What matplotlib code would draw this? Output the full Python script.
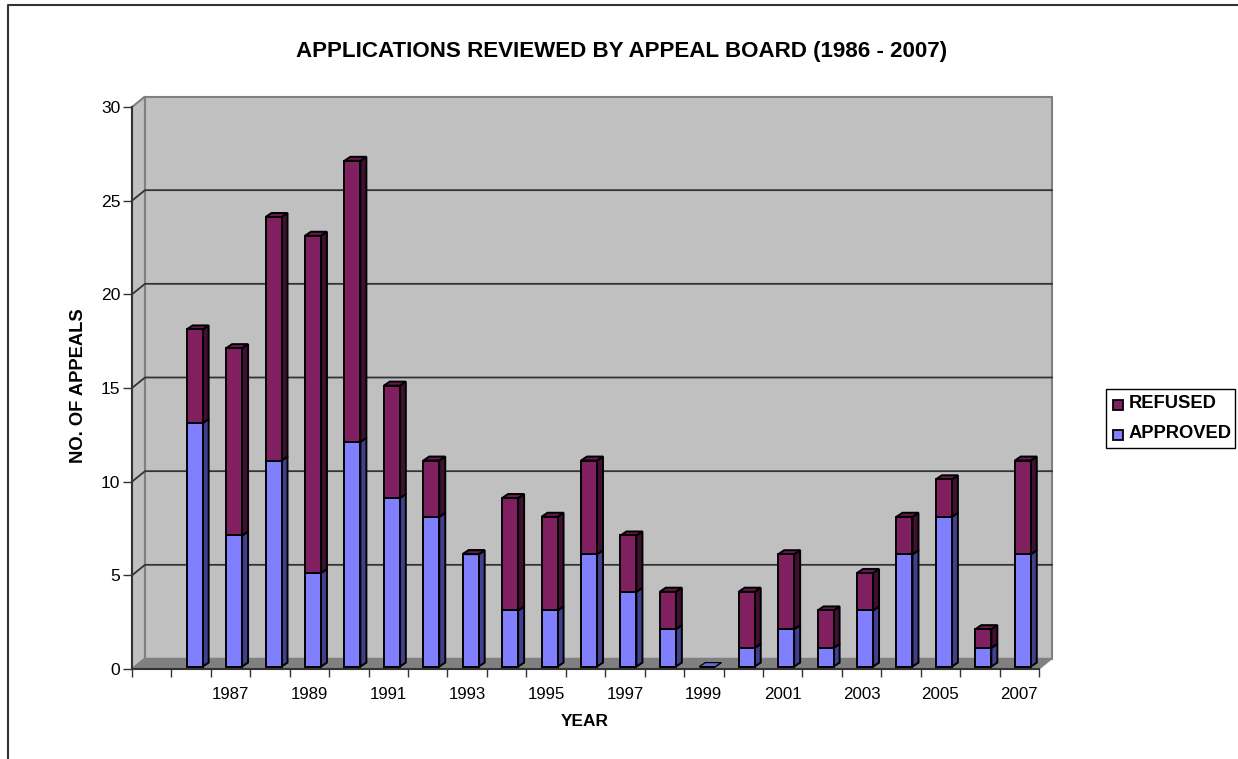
import numpy as np
import matplotlib
matplotlib.use("Agg")
import matplotlib.pyplot as plt
from matplotlib.patches import Polygon, Rectangle

plt.rcParams['font.family'] = ['Liberation Sans', 'DejaVu Sans']

anos = list(range(1986, 2008))
aprovados = [13, 7, 11, 5, 12, 9, 8, 6, 3, 3, 6, 4, 2, 0, 1, 2, 1, 3, 6, 8, 1, 6]
recusados = [5, 10, 13, 18, 15, 6, 3, 0, 6, 5, 5, 3, 2, 0, 3, 4, 2, 2, 2, 2, 1, 5]
rotulos_y = [0, 5, 10, 15, 20, 25, 30]

W, H = 1238, 759
fig = plt.figure(figsize=(W / 100, H / 100), dpi=100, facecolor='white')
ax = fig.add_axes([132 / W, 1 - 669 / H, (1039 - 132) / W, (669 - 107) / H])
ax.set_xlim(0, 23)
ax.set_ylim(0, 30)
ax.patch.set_visible(False)
for s in ax.spines.values():
    s.set_visible(False)

# pixels por unidade nos eixos
px = (1039 - 132) / 23
py = (669 - 107) / 30
fundo_x, fundo_y = 13 / px, 10.5 / py   # profundidade da parede
barra_dx, barra_dy = 6 / px, 4 / py     # profundidade da barra
ini_x, ini_y = 3.5 / px, 2.4 / py       # recuo da barra
larg = 16 / px

# paredes e chao
ax.add_patch(Polygon([(0, 0), (fundo_x, fundo_y), (fundo_x, 30 + fundo_y), (0, 30)],
                     fc='#c0c0c0', ec='#808080', lw=1.5, clip_on=False, zorder=1))
ax.add_patch(Rectangle((fundo_x, fundo_y), 23, 30, fc='#c0c0c0', ec='#808080',
                       lw=1.5, clip_on=False, zorder=1))
ax.add_patch(Polygon([(0, 0), (fundo_x, fundo_y), (23 + fundo_x, fundo_y), (23, 0)],
                     fc='#808080', ec='#808080', lw=1, clip_on=False, zorder=2))

# grade
for v in rotulos_y[1:-1]:
    ax.plot([0, fundo_x, 23 + fundo_x], [v, v + fundo_y, v + fundo_y], color='#333333',
            lw=1.3, clip_on=False, zorder=2)


def barra(x, base, alt, cor, lado, topo, lw=1.4):
    esq = x - larg / 2
    dir = x + larg / 2
    y0 = base + ini_y
    y1 = base + alt + ini_y
    ax.add_patch(Polygon([(dir, y0), (dir + barra_dx, y0 + barra_dy),
                          (dir + barra_dx, y1 + barra_dy), (dir, y1)],
                         fc=lado, ec='black', lw=lw, clip_on=False, zorder=3))
    ax.add_patch(Polygon([(esq, y1), (esq + barra_dx, y1 + barra_dy),
                          (dir + barra_dx, y1 + barra_dy), (dir, y1)],
                         fc=topo, ec='black', lw=lw, clip_on=False, zorder=3))
    ax.bar(x, alt, larg, bottom=y0, color=cor, edgecolor='black', lw=lw, clip_on=False, zorder=3)


for i, ano in enumerate(anos):
    x = i + 1.5 + ini_x
    a, r = aprovados[i], recusados[i]
    if a == 0 and r == 0:
        # ano sem recursos: so o topo achatado
        barra(x, 0, a, '#8080ff', '#40408f', '#6a6ad8', lw=0.9)
        continue
    barra(x, 0, a, '#8080ff', '#40408f', '#40408f')
    barra(x, a, r, '#802060', '#401030', '#661a4d')

# eixos
ax.plot([0, 0], [0, 30], color='#333333', lw=1.5, clip_on=False, zorder=4)
ax.plot([0, 23], [0, 0], color='#333333', lw=1.5, clip_on=False, zorder=4)
ax.set_xticks(np.arange(24))
ax.set_xticklabels([])
ax.tick_params(axis='x', which='major', length=6, width=1, color='#333333')
ax.set_xticks([i + 1.5 for i, a in enumerate(anos) if a % 2 == 1], minor=True)
ax.set_xticklabels([str(a) for a in anos if a % 2 == 1], minor=True, fontsize=12.2)
ax.tick_params(axis='x', which='minor', length=0, pad=13)
ax.set_yticks(rotulos_y)
ax.set_yticklabels([str(v) for v in rotulos_y], fontsize=12.6)
ax.tick_params(axis='y', length=6.5, width=1, color='#333333', pad=2)

# textos
fig.text(622 / W, 1 - 51 / H, 'APPLICATIONS REVIEWED BY APPEAL BOARD (1986 - 2007)',
         ha='center', va='center', fontsize=16.1, fontweight='bold')
fig.text(585 / W, 1 - 721 / H, 'YEAR', ha='center', va='center', fontsize=12.4, fontweight='bold')
fig.text(78 / W, 1 - 386 / H, 'NO. OF APPEALS', ha='center', va='center', rotation=90,
         fontsize=13.2, fontweight='bold')

# moldura do grafico, cortada na borda da imagem
fig.add_artist(plt.Line2D([8 / W, 8 / W, 1], [0, 1 - 5 / H, 1 - 5 / H], color='#333333', lw=1.5))

# legenda
fig.add_artist(Rectangle((1106 / W, 1 - 448 / H), 129 / W, 59 / H, transform=fig.transFigure,
                         fc='white', ec='black', lw=1))
for nome, cor, yp, yt in [('REFUSED', '#802060', 405.5, 404), ('APPROVED', '#8080ff', 434.5, 433)]:
    fig.add_artist(Rectangle((1113 / W, 1 - (yp + 5) / H), 10 / W, 10 / H, transform=fig.transFigure,
                             fc=cor, ec='black', lw=1.3))
    fig.text(1129 / W, 1 - yt / H, nome, ha='left', va='center', fontsize=13.2, fontweight='bold')

fig.savefig('out.png', dpi=100)
